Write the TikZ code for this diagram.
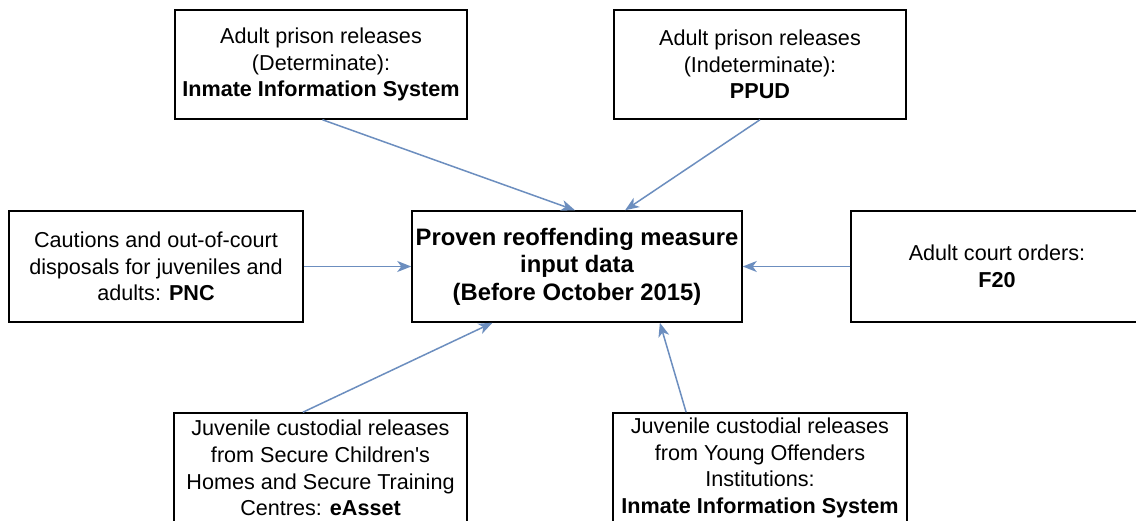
\documentclass[tikz,border=0pt]{standalone}
\usepackage{fontspec}
\setmainfont{Liberation Sans}
\usetikzlibrary{arrows.meta,calc}
\definecolor{arrowblue}{HTML}{6C8EBF}
\tikzset{
  srcbox/.style={draw=black, line width=1.5pt, fill=white, align=center, inner sep=0pt,
    font=\fontsize{21.6}{26.6}\selectfont},
  mainbox/.style={srcbox, font=\fontsize{23.8}{27.6}\selectfont\bfseries},
  conn/.style={draw=arrowblue, line width=1.5pt, -{Stealth[length=14pt,width=11pt,inset=4pt]}}
}
\begin{document}
\begin{tikzpicture}[x=1pt,y=-1pt]
\useasboundingbox (0,0) rectangle (1136,521);
\clip (0,0) rectangle (1136,521);
\fill[white] (0,0) rectangle (1136,521);
\node[srcbox, minimum width=292pt, minimum height=109pt] (tl) at (321,64.5)
  {Adult prison releases\\(Determinate):\\\textbf{Inmate Information System}};
\node[srcbox, minimum width=292pt, minimum height=109pt] (tr) at (760,64.5)
  {Adult prison releases\\(Indeterminate):\\\textbf{PPUD}};
\node[srcbox, minimum width=294pt, minimum height=111pt] (l) at (156,266.5)
  {Cautions and out-of-court\\disposals for juveniles and\\adults: \textbf{PNC}};
\node[mainbox, minimum width=330pt, minimum height=111pt] (c) at (577,266.5)
  {Proven reoffending measure\\input data\\(Before October 2015)};
\node[srcbox, minimum width=292pt, minimum height=111pt] (r) at (997,266.5)
  {Adult court orders:\\\textbf{F20}};
\node[srcbox, minimum width=293pt, minimum height=110pt] (bl) at (320.5,468)
  {Juvenile custodial releases\\from Secure Children\textquotesingle s\\Homes and Secure Training\\Centres: \textbf{eAsset}};
\node[srcbox, minimum width=294pt, minimum height=110pt] (br) at (760,468)
  {Juvenile custodial releases\\from Young Offenders\\Institutions:\\\textbf{Inmate Information System}};
\coordinate (ctop1) at ($(c.north west)!0.494!(c.north east)$);
\coordinate (ctop2) at ($(c.north west)!0.645!(c.north east)$);
\coordinate (cbot1) at ($(c.south west)!0.245!(c.south east)$);
\coordinate (cbot2) at ($(c.south west)!0.75!(c.south east)$);
\coordinate (blout) at ($(bl.north west)!0.44!(bl.north east)$);
\coordinate (brout) at ($(br.north west)!0.25!(br.north east)$);
\coordinate (tlout) at ($(tl.south west)!0.505!(tl.south east)$);
\draw[conn] (tlout) -- (ctop1);
\draw[conn] (tr.south) -- (ctop2);
\draw[conn] (l.east) -- (c.west);
\draw[conn] (r.west) -- (c.east);
\draw[conn] (blout) -- (cbot1);
\draw[conn] (brout) -- (cbot2);
\end{tikzpicture}
\end{document}
